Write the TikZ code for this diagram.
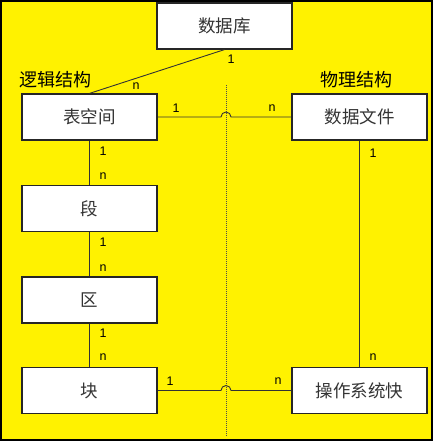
\documentclass[tikz,border=0pt]{standalone}
\usepackage{fontspec}
\setmainfont{Liberation Sans}
\newfontfamily\cjk{Noto Sans CJK SC}
\begin{document}
\begin{tikzpicture}[x=1pt,y=-1pt,
  box/.style={draw=black!85,line width=1.2pt,fill=white,minimum width=135pt,minimum height=46pt,inner sep=0pt,font=\cjk\fontsize{17.5}{20}\selectfont,text=black!80},
  head/.style={font=\cjk\fontsize{18}{20}\selectfont,text=black,inner sep=0pt},
  lab/.style={font=\fontsize{12.5}{14}\selectfont,inner sep=0pt,text=black},
  conn/.style={draw=black!80,line width=0.9pt}]
\useasboundingbox (0,0) rectangle (433,441);
\fill[yellow] (0,0) rectangle (433,441);
\draw[black,line width=2pt] (1,1) rectangle (432,439.5);
% divider
\coordinate (dtop) at (226,85);
\coordinate (dbot) at (226,437);
\draw[black!70,densely dotted,line width=1pt] (dtop) -- (dbot);
% boxes
\node[box] (db) at (224.5,26) {数据库};
\node[box] (ts) at (89.5,117) {表空间};
\node[box] (df) at (359.5,117) {数据文件};
\node[box] (seg) at (89.5,208.5) {段};
\node[box] (qu) at (89.5,300) {区};
\node[box] (blk) at (89.5,390.5) {块};
\node[box] (os) at (359.5,390.5) {操作系统快};
% headings
\node[head] (hl) at (55,80) {逻辑结构};
\node[head] (hr) at (356,80) {物理结构};
% connectors
\draw[conn] (db.south) -- (ts.north);
\draw[conn] (ts.south) -- (seg.north);
\draw[conn] (seg.south) -- (qu.north);
\draw[conn] (qu.south) -- (blk.north);
\draw[conn] (df.south) -- (os.north);
\coordinate (hopA) at (221,117);
\coordinate (hopB) at (221,390.5);
\draw[conn] (ts.east) -- (hopA) arc[start angle=180,end angle=0,radius=5pt] -- (df.west);
\draw[conn] (blk.east) -- (hopB) arc[start angle=180,end angle=0,radius=5pt] -- (os.west);
% labels
\node[lab] (l1) at (231,59) {1};
\node[lab] (l2) at (136,86) {n};
\node[lab] (l3) at (176,108) {1};
\node[lab] (l4) at (272,108) {n};
\node[lab] (l5) at (103,151) {1};
\node[lab] (l6) at (103,176) {n};
\node[lab] (l7) at (103,242) {1};
\node[lab] (l8) at (103,268) {n};
\node[lab] (l9) at (103,333) {1};
\node[lab] (l10) at (103,357) {n};
\node[lab] (l11) at (373,153) {1};
\node[lab] (l12) at (373,357) {n};
\node[lab] (l13) at (170,381) {1};
\node[lab] (l14) at (278,381) {n};
\end{tikzpicture}
\end{document}
